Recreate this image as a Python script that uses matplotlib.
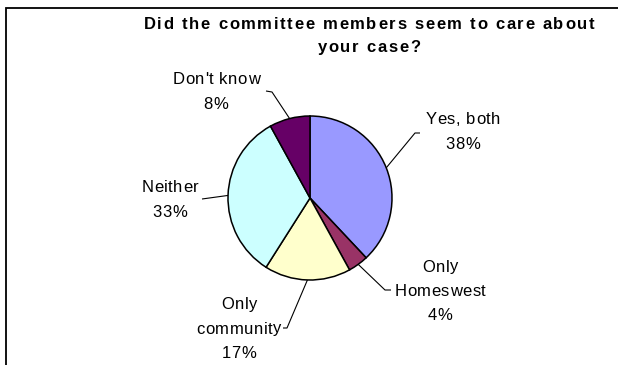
import matplotlib
matplotlib.use("Agg")
import matplotlib.pyplot as plt
import numpy as np
from matplotlib.patches import Rectangle
from matplotlib.transforms import Affine2D
from matplotlib.font_manager import FontProperties, findfont
from matplotlib.ft2font import FT2Font

try:
    from matplotlib.ft2font import LoadFlags
    NO_HINT = LoadFlags.NO_HINTING
except ImportError:
    from matplotlib.ft2font import LOAD_NO_HINTING as NO_HINT

# Survey answers, clockwise from 12 o'clock
categories = ["Yes, both", "Only\nHomeswest", "Only\ncommunity", "Neither", "Don't know"]
shares = [38, 4, 17, 33, 8]
colors = ["#9999FF", "#993366", "#FFFFCC", "#CCFFFF", "#660066"]
title_lines = ["Did the committee members seem to care about", "your case?"]

W, H, DPI = 618, 365, 100
CX, CY, R = 310, 198, 82  # pie centre and radius in pixels
FAMILY = "Liberation Sans"

fig = plt.figure(figsize=(W / DPI, H / DPI), dpi=DPI)
fig.patch.set_facecolor("white")
ax = fig.add_axes([0, 0, 1, 1])
ax.axis("off")

ax.pie(shares, colors=colors, startangle=90, counterclock=False,
       radius=1.0, center=(0, 0),
       wedgeprops=dict(edgecolor="black", linewidth=1.1))
ax.set_aspect("equal")
ax.set_xlim(-CX / R, (W - CX) / R)
ax.set_ylim(-(H - CY) / R, CY / R)

# pixel coordinates with the origin at the top-left corner
pix = Affine2D().scale(1 / W, -1 / H).translate(0, 1) + fig.transFigure


def px(x, y):
    return (x - CX) / R, (CY - y) / R


def tracked_line(x_center, y_center, s, size, weight="normal", tracking=0.0):
    """Draw one line of text centred on a point, with extra letter spacing."""
    prop = FontProperties(family=FAMILY, weight=weight, size=size)
    font = FT2Font(findfont(prop))
    font.set_size(size, DPI)
    adv = [font.load_char(ord(c), flags=NO_HINT).linearHoriAdvance / 65536
           for c in s]
    total = sum(adv) + tracking * (len(s) - 1)
    size_px = size * DPI / 72
    x = x_center - total / 2
    base = y_center + 0.36 * size_px
    for c, a in zip(s, adv):
        if c != " ":
            fig.text(x, base, c, transform=pix, fontproperties=prop,
                     ha="left", va="baseline", color="black")
        x += a + tracking


def tracked_block(x_center, y_center, lines, size, step, **kw):
    n = len(lines)
    for i, line in enumerate(lines):
        tracked_line(x_center, y_center + (i - (n - 1) / 2) * step, line, size, **kw)


# label block centre, elbow of the leader, end of the short tick next to the text
layout = [
    dict(text=(463, 130.5), elbow=(415, 133), tick=(420, 133)),
    dict(text=(440, 290), elbow=(385, 290), tick=(391, 290)),
    dict(text=(239, 327.5), elbow=(287, 328), tick=(283, 328)),
    dict(text=(170, 198.5), elbow=(202, 199), tick=(202, 199)),
    dict(text=(216, 90.5), elbow=(272, 92), tick=(266, 91)),
]

total = sum(shares)
cum = 0
for name, val, lay in zip(categories, shares, layout):
    mid = (cum + val / 2) / total
    cum += val
    theta = np.deg2rad(90 - 360 * mid)
    ex, ey = np.cos(theta), np.sin(theta)
    bx, by = px(*lay["elbow"])
    tx, ty = px(*lay["tick"])
    ax.plot([tx, bx, ex], [ty, by, ey], color="black", lw=0.8,
            solid_capstyle="butt")
    tracked_block(lay["text"][0], lay["text"][1],
                  name.split("\n") + [f"{val}%"], 12, 24.5, tracking=0.6)

tracked_block(369, 34.5, title_lines, 12, 23, weight="bold", tracking=1.67)

# chart frame
fig.patches.append(Rectangle((5.5 / W, -0.1), 1.2, 1 - 8.5 / H + 0.1,
                             transform=fig.transFigure, fill=False,
                             edgecolor="black", linewidth=1.3))

fig.savefig("out.png", dpi=DPI, facecolor="white")
